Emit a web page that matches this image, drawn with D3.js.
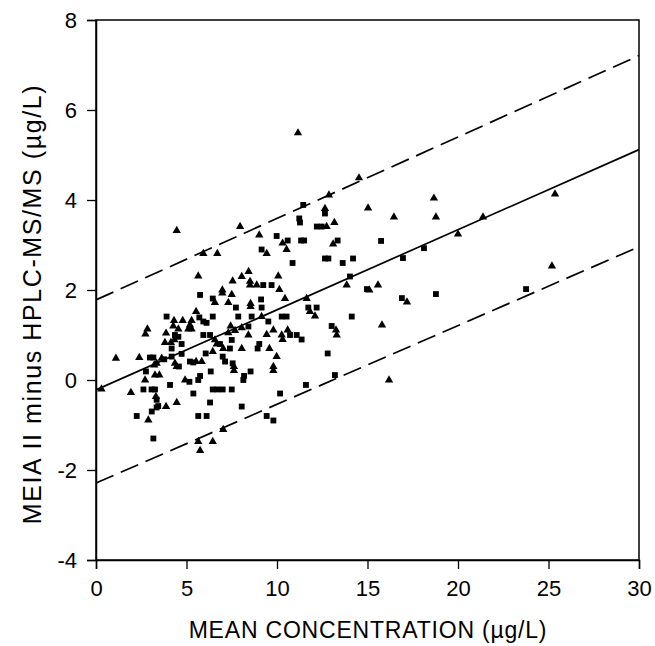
<!doctype html>
<html lang="en">
<head>
<meta charset="utf-8">
<title>MEIA II vs HPLC-MS/MS</title>
<script src="https://cdn.jsdelivr.net/npm/d3@7"></script>
<style>
  body { margin: 0; background: #fff; }
  svg text { font-family: "Liberation Sans", Arial, sans-serif; fill: #000; }
</style>
</head>
<body>
<svg id="chart" width="655" height="646"></svg>
<script>
// axis settings
var xTicks = [0, 5, 10, 15, 20, 25, 30];
var yTicks = [-4, -2, 0, 2, 4, 6, 8];

// regression line and limits: [intercept, slope]
var meanLine = [-0.22, 0.178];
var upperLine = [1.78, 0.181];
var lowerLine = [-2.29, 0.175];

// filled triangles [mean, difference]
var triangles = [
  [12.65,3.81],[4.46,3.32],[7.96,3.41],[13.17,3.5],[12.74,3.41],[9.02,3.22],[10.31,3.04],[13.1,3.02],
  [9.43,2.81],[10.53,2.9],[5.93,2.81],[6.7,2.81],[5.65,2.31],[8.43,2.41],[7.55,2.2],[8.05,2.3],
  [8.51,2.19],[8.51,2.11],[8.88,2.11],[10.07,2.31],[10.13,2.01],[13.85,2.11],[6.98,2.0],[6.98,1.93],
  [7.5,1.9],[6.57,1.72],[7.31,1.72],[8.54,1.7],[8.54,1.63],[10.44,1.81],[11.64,1.81],[11.82,1.52],
  [12.1,1.42],[4.31,1.32],[4.79,1.32],[5.28,1.32],[5.19,1.22],[5.53,1.52],[8.05,1.16],[9.15,1.41],
  [7.44,1.2],[5.28,1.13],[5.1,1.13],[4.55,1.13],[4.27,1.2],[2.84,1.13],[2.73,1.02],[3.87,1.04],
  [7.31,1.05],[7.68,1.1],[8.42,1.0],[9.43,1.01],[9.8,1.11],[10.26,1.0],[10.31,0.9],[10.59,1.11],
  [13.26,1.11],[13.3,1.0],[3.81,0.83],[4.14,0.83],[4.33,0.89],[6.57,0.89],[6.67,0.8],[7.03,0.7],
  [8.05,0.7],[9.58,0.7],[6.45,0.63],[1.1,0.48],[2.39,0.5],[3.63,0.48],[5.53,0.41],[5.84,0.41],
  [3.35,0.37],[3.22,0.33],[4.36,0.37],[4.46,0.3],[7.62,0.3],[7.62,0.21],[9.98,0.52],[9.8,0.3],
  [9.8,0.21],[3.26,0.11],[3.5,0.11],[4.92,0.0],[2.71,0.0],[1.93,-0.28],[0.3,-0.2],[3.31,-0.37],
  [2.89,-0.89],[3.87,-0.59],[4.46,-0.5],[7.03,-1.1],[5.65,-1.37],[6.45,-1.37],[5.75,-1.57],
  [14.53,4.49],[18.67,4.04],[25.36,4.13],[15.03,3.82],[16.46,3.62],[18.78,3.62],[21.38,3.62],
  [20.0,3.24],[15.1,2.0],[15.58,2.11],[17.18,1.73],[25.19,2.53],[15.8,1.22],[16.19,0.0],
  [11.16,5.49],[12.87,4.11]
];

// filled squares [mean, difference]
var squares = [
  [11.45,3.89],[12.65,3.7],[11.23,3.59],[11.27,3.5],[12.2,3.41],[12.47,3.41],[9.98,3.2],[10.59,3.1],
  [11.33,3.1],[11.5,3.1],[13.35,3.1],[9.15,2.9],[12.65,2.7],[12.84,2.7],[14.2,2.7],[10.86,2.6],
  [13.63,2.6],[14.03,2.3],[9.24,2.11],[9.7,2.11],[5.75,1.89],[6.45,1.81],[7.73,1.61],[9.12,1.79],
  [9.15,1.61],[11.73,1.61],[12.19,1.61],[14.13,1.41],[3.9,1.41],[5.71,1.39],[6.45,1.41],[5.93,1.3],
  [6.11,1.27],[7.86,1.41],[8.6,1.41],[8.42,1.19],[9.52,1.3],[10.26,1.41],[10.53,1.41],[13.02,1.2],
  [4.36,1.0],[4.55,0.96],[5.93,1.0],[6.3,1.0],[10.72,1.0],[11.09,1.0],[11.36,0.9],[4.73,0.8],
  [4.18,0.7],[6.85,0.8],[7.5,0.89],[9.02,0.8],[8.93,0.7],[12.8,0.59],[4.73,0.58],[6.06,0.59],
  [7.4,0.7],[2.98,0.5],[3.17,0.5],[4.18,0.52],[5.19,0.41],[5.38,0.39],[3.77,0.46],[4.58,0.3],
  [7.0,0.52],[7.13,0.41],[7.55,0.37],[2.76,0.19],[5.16,-0.04],[5.75,0.09],[5.65,0.0],[6.34,0.19],
  [4.09,-0.11],[8.54,0.19],[8.18,0.09],[8.14,0.0],[2.62,-0.21],[3.07,-0.21],[3.26,-0.21],[5.38,-0.3],
  [6.45,-0.21],[6.71,-0.21],[7.0,-0.21],[7.5,-0.21],[11.6,-0.11],[10.17,-0.3],[13.2,0.11],
  [2.25,-0.8],[3.08,-0.7],[3.35,-0.61],[3.44,-0.58],[3.35,-0.44],[6.3,-0.5],[3.17,-1.3],
  [5.65,-0.8],[6.11,-0.8],[8.05,-0.59],[9.43,-0.8],[9.8,-0.9],
  [15.75,3.09],[18.12,2.93],[16.96,2.71],[14.97,2.02],[16.9,1.82],[18.78,1.91],[23.76,2.02]
];

var margin = {top: 20, right: 16, bottom: 86, left: 96};
var width = 655 - margin.left - margin.right;
var height = 646 - margin.top - margin.bottom;

var svg = d3.select('#chart');
var g = svg.append('g').attr('transform', 'translate(' + margin.left + ',' + margin.top + ')');

var x = d3.scaleLinear().domain([0, 30]).range([0, width]);
var y = d3.scaleLinear().domain([-4, 8]).range([height, 0]);

// frame
g.append('rect')
  .attr('width', width).attr('height', height)
  .attr('fill', 'none').attr('stroke', '#000').attr('stroke-width', 1.5);

var xAxis = g.append('g')
  .attr('transform', 'translate(0,' + height + ')')
  .call(d3.axisBottom(x).tickValues(xTicks).tickSize(9).tickPadding(11));
var yAxis = g.append('g')
  .call(d3.axisLeft(y).tickValues(yTicks).tickSize(9).tickPadding(10)
    .tickFormat(function(d) { return d < 0 ? '-' + Math.abs(d) : d; }));

[xAxis, yAxis].forEach(function(a) {
  a.select('.domain').attr('stroke-width', 1.5);
  a.selectAll('.tick line').attr('stroke-width', 1.3);
  a.selectAll('text').attr('font-size', 22).style('font-family', '"Liberation Sans", Arial, sans-serif');
});

// lines
function drawLine(p, dash) {
  g.append('line')
    .attr('x1', x(0)).attr('y1', y(p[0]))
    .attr('x2', x(30)).attr('y2', y(p[0] + p[1] * 30))
    .attr('stroke', '#000').attr('stroke-width', 1.7)
    .attr('stroke-dasharray', dash);
}
drawLine(meanLine, null);
drawLine(upperLine, '19,8');
drawLine(lowerLine, '19,8');

// points
var tri = d3.symbol().type(d3.symbolTriangle).size(30);
var sq = d3.symbol().type(d3.symbolSquare).size(34);

g.selectAll('.tri').data(triangles).enter().append('path')
  .attr('class', 'tri')
  .attr('d', tri)
  .attr('transform', function(d) { return 'translate(' + x(d[0]) + ',' + y(d[1]) + ')'; })
  .attr('fill', '#000');

g.selectAll('.sq').data(squares).enter().append('path')
  .attr('class', 'sq')
  .attr('d', sq)
  .attr('transform', function(d) { return 'translate(' + x(d[0]) + ',' + y(d[1]) + ')'; })
  .attr('fill', '#000');

// axis titles
svg.append('text')
  .attr('x', 368).attr('y', 638)
  .attr('text-anchor', 'middle').attr('font-size', 23)
  .attr('letter-spacing', 0.8)
  .text('MEAN CONCENTRATION (µg/L)');

svg.append('text')
  .attr('transform', 'translate(41,304) rotate(-90)')
  .attr('text-anchor', 'middle').attr('font-size', 25)
  .attr('letter-spacing', 1.6)
  .text('MEIA II minus HPLC-MS/MS (µg/L)');
</script>
</body>
</html>
